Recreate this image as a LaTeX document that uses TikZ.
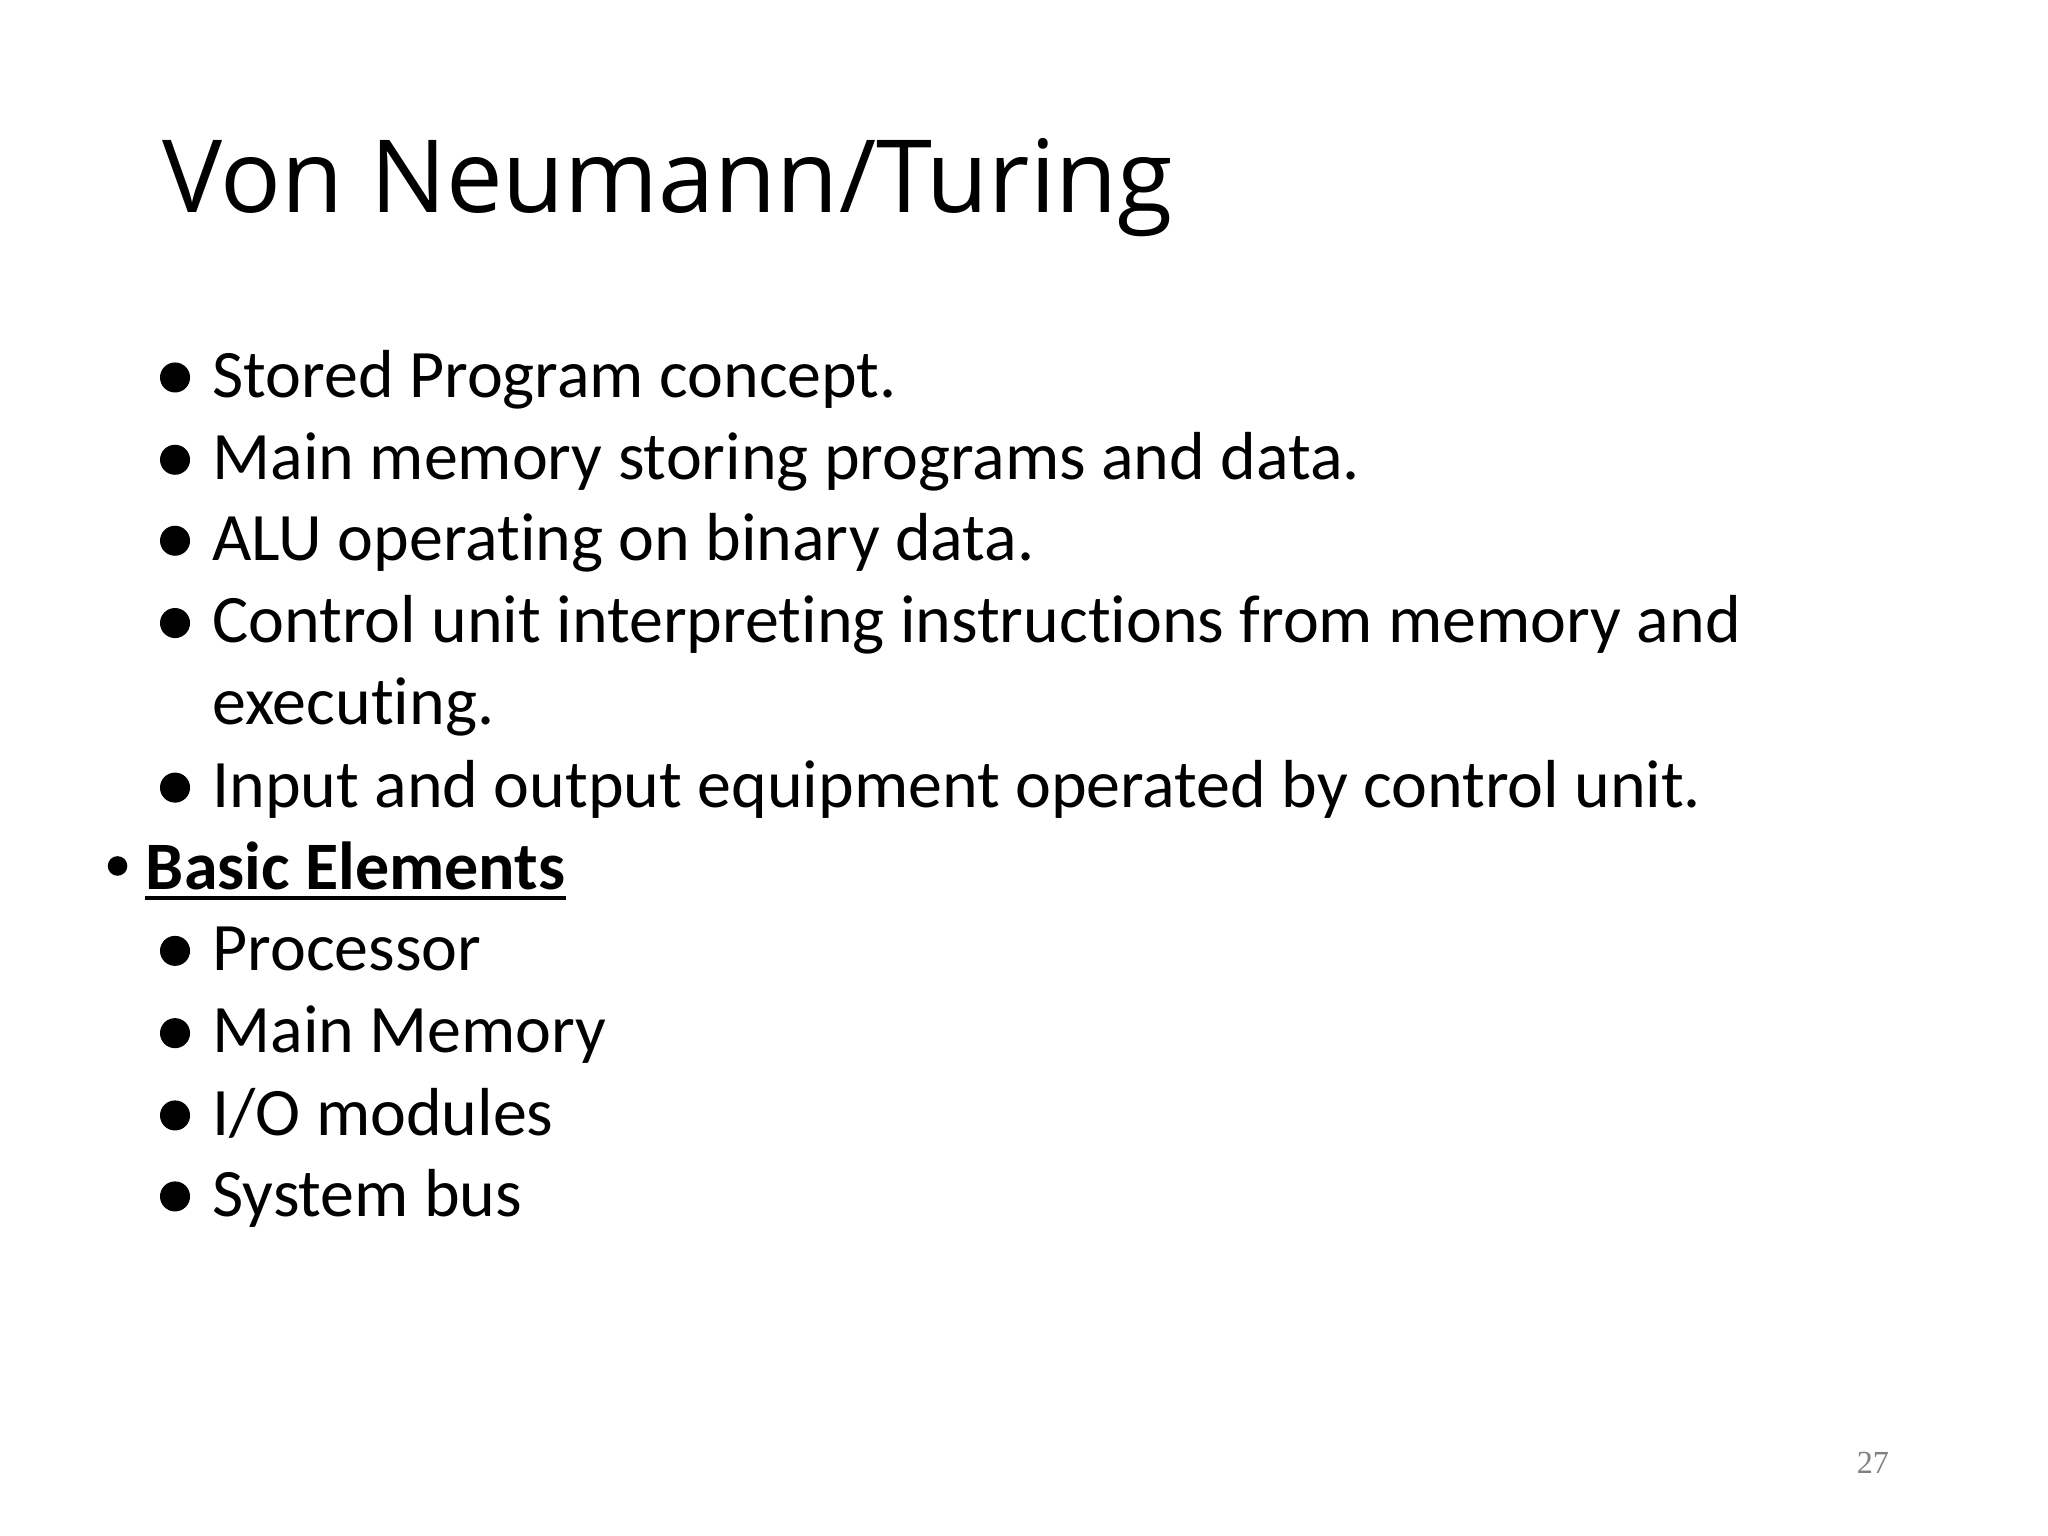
\documentclass[tikz,border=0pt]{standalone}
\usepackage{fontspec}
\setmainfont{Carlito}[RawFeature={-liga}]
\newfontfamily\titlefont{Open Sans}
\newfontfamily\pgnum{Liberation Serif}
\begin{document}
\begin{tikzpicture}[x=0.1mm,y=-0.1mm,
  txt/.style={anchor=base west,inner sep=0pt,font=\fontsize{14.8pt}{18pt}\selectfont},
  dot/.style={circle,fill=black,inner sep=0pt,minimum size=2.3mm}]
\useasboundingbox[fill=white] (0,0) rectangle (1568,1176);
\node[anchor=base west,inner sep=0pt,font=\titlefont\fontsize{22pt}{26pt}\selectfont] (title) at (124,163) {Von Neumann/Turing};
\foreach \y/\t [count=\i] in {304/{Stored Program concept.},367/{Main memory storing programs and data.},429/{ALU operating on binary data.},492/{Control unit interpreting instructions from memory and},618/{Input and output equipment operated by control unit.},743/{Processor},806/{Main Memory},869/{I/O modules},931/{System bus}}{
  \node[dot] (d\i) at (134,\y-15) {};
  \node[txt] (t\i) at (162,\y) {\t};
}
\node[txt] (t10) at (162,555) {executing.};
\node[circle,fill=black,inner sep=0pt,minimum size=1.5mm] (db) at (90,663) {};
\node[txt] (basic) at (111,681) {\textbf{Basic Elements}};
\draw[line width=0.3mm] ([yshift=-0.65mm]basic.base west) -- ([yshift=-0.65mm]basic.base east);
\node[anchor=base,inner sep=0pt,text=gray,font=\pgnum\fontsize{7pt}{8pt}\selectfont] (pg) at (1434,1128) {27};
\end{tikzpicture}
\end{document}
